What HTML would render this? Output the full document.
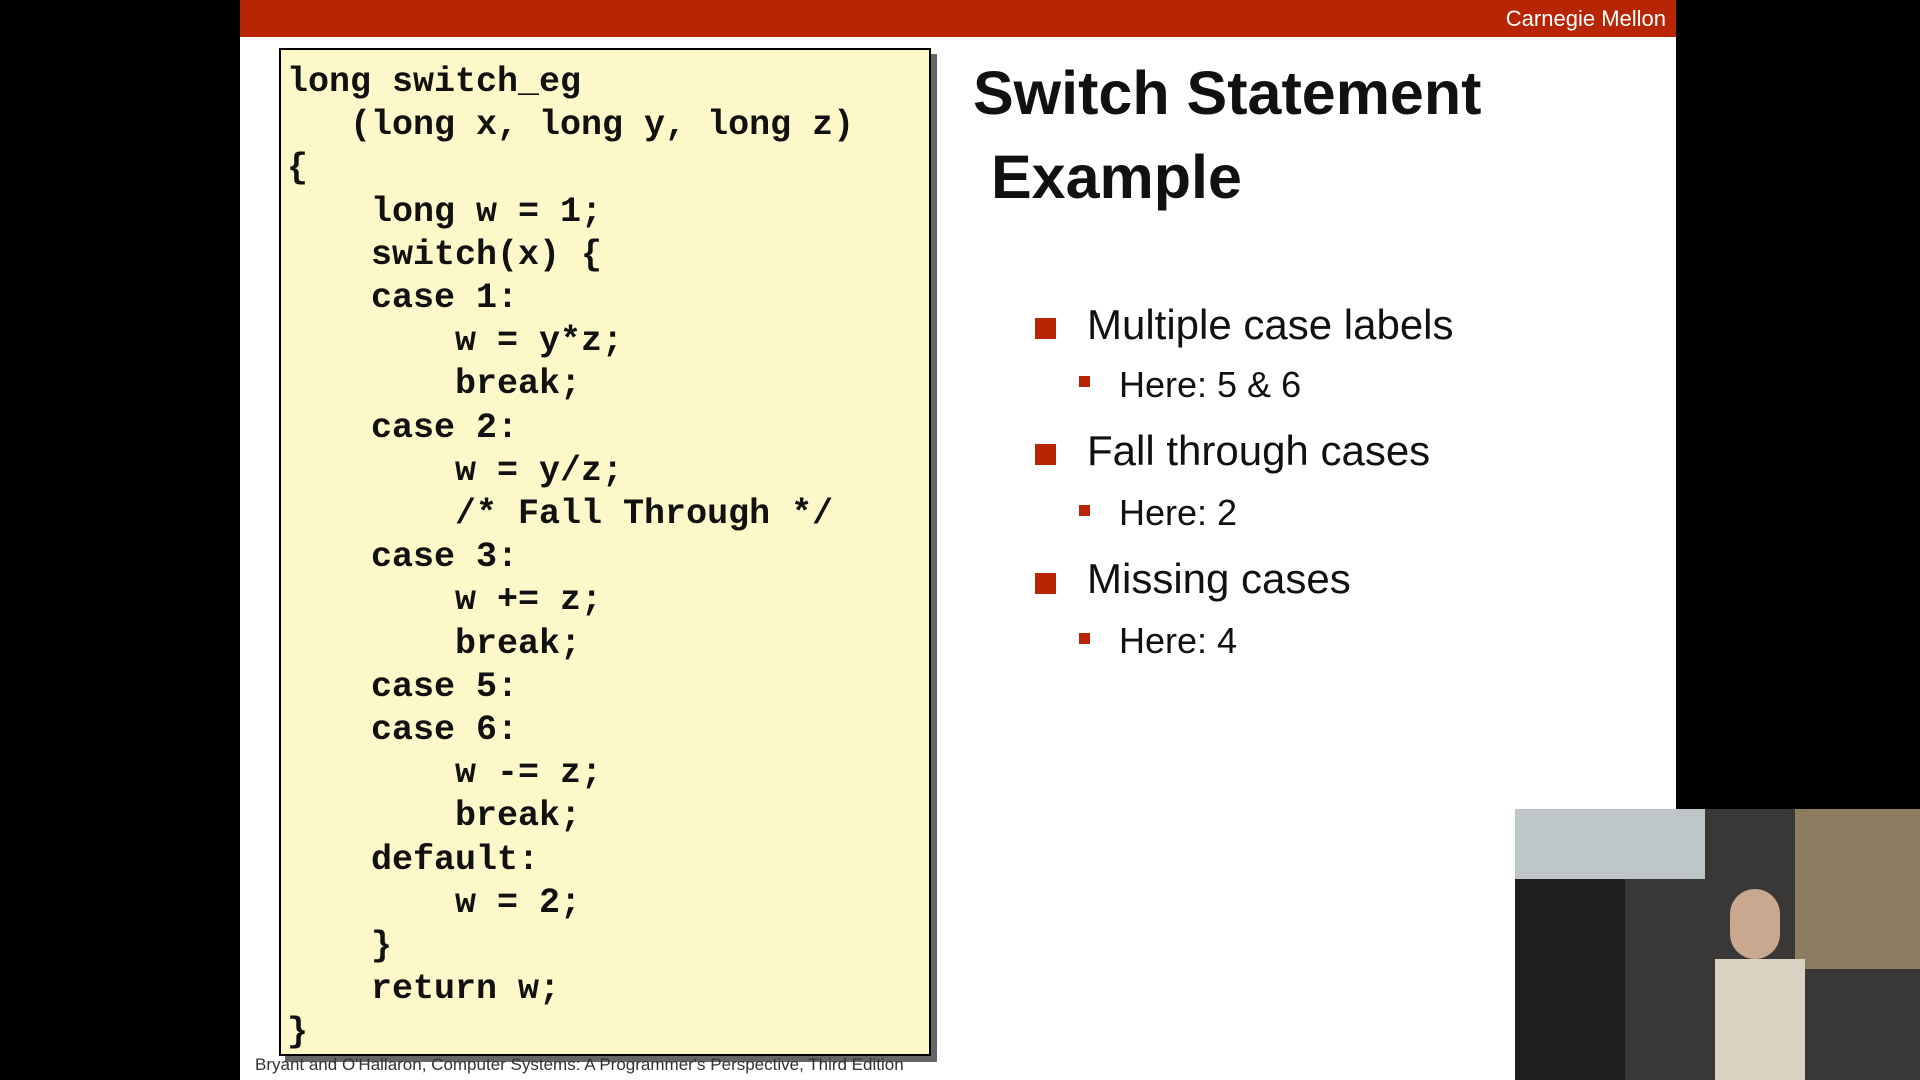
<!DOCTYPE html>
<html><head><meta charset="utf-8"><style>
body{margin:0;width:1920px;height:1080px;background:#000;position:relative;overflow:hidden;font-family:"Liberation Sans",sans-serif}
.slide{position:absolute;left:240px;top:0;width:1436px;height:1080px;background:#fff}
.bar{position:absolute;left:240px;top:0;width:1436px;height:37px;background:#b82505}
.cm{position:absolute;right:10px;top:6px;color:#fff;font-size:22px}
.code{position:absolute;left:279px;top:48px;width:648px;height:1004px;background:#fcf8c9;border:2px solid #000;box-shadow:6px 6px 0 #666}
pre{position:absolute;left:287px;top:61px;margin:0;font-family:"Liberation Mono",monospace;font-weight:bold;font-size:35px;line-height:43.2px;color:#111}
.t{position:absolute;font-weight:bold;font-size:61px;color:#111}
.b{position:absolute;width:21px;height:21px;background:#b82505}
.s{position:absolute;width:11px;height:11px;background:#b82505}
.bt{position:absolute;font-size:42px;color:#111}
.st{position:absolute;font-size:36px;color:#111}
.foot{position:absolute;left:255px;top:1055px;font-size:17px;color:#333}
</style></head><body>
<div class="slide"></div>
<div class="bar"><div class="cm">Carnegie Mellon</div></div>
<div class="code"></div>
<pre>long switch_eg
   (long x, long y, long z)
{
    long w = 1;
    switch(x) {
    case 1:
        w = y*z;
        break;
    case 2:
        w = y/z;
        /* Fall Through */
    case 3:
        w += z;
        break;
    case 5:
    case 6:
        w -= z;
        break;
    default:
        w = 2;
    }
    return w;
}</pre>
<div class="t" style="left:973px;top:58px">Switch Statement</div>
<div class="t" style="left:991px;top:142px">Example</div>
<div class="b" style="left:1035px;top:318px"></div><div class="bt" style="left:1087px;top:301px">Multiple case labels</div>
<div class="s" style="left:1079px;top:376px"></div><div class="st" style="left:1119px;top:364px">Here: 5 &amp; 6</div>
<div class="b" style="left:1035px;top:444px"></div><div class="bt" style="left:1087px;top:427px">Fall through cases</div>
<div class="s" style="left:1079px;top:505px"></div><div class="st" style="left:1119px;top:492px">Here: 2</div>
<div class="b" style="left:1035px;top:573px"></div><div class="bt" style="left:1087px;top:555px">Missing cases</div>
<div class="s" style="left:1079px;top:633px"></div><div class="st" style="left:1119px;top:620px">Here: 4</div>
<div class="foot">Bryant and O'Hallaron, Computer Systems: A Programmer's Perspective, Third Edition</div>
<div style="position:absolute;left:1515px;top:809px;width:405px;height:271px;background:#3a3836">
<div style="position:absolute;left:0;top:0;width:190px;height:70px;background:#bfc6c8"></div>
<div style="position:absolute;left:0;top:70px;width:110px;height:201px;background:#1e1e1e"></div>
<div style="position:absolute;left:280px;top:0;width:125px;height:160px;background:#8d7c60"></div>
<div style="position:absolute;left:200px;top:150px;width:90px;height:121px;background:#d9d2c0"></div>
<div style="position:absolute;left:215px;top:80px;width:50px;height:70px;background:#c9a890;border-radius:25px"></div>
</div>
</body></html>
